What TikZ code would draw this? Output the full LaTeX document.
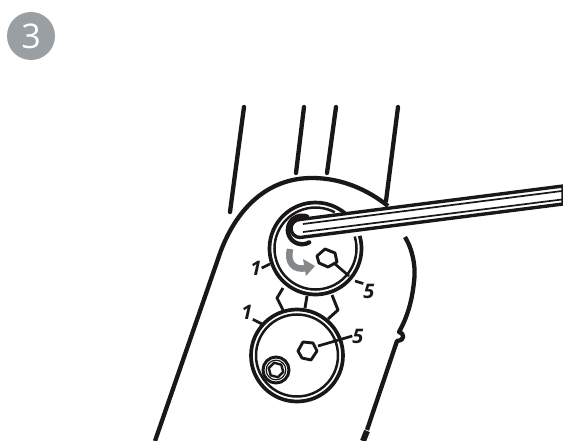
\documentclass[tikz,border=0pt]{standalone}
\usepackage{fontspec}
\setmainfont{Open Sans}
\definecolor{badgegray}{HTML}{9A9FA3}
\definecolor{turngray}{HTML}{85888B}
\definecolor{inkblack}{HTML}{1A1717}
\begin{document}
\begin{tikzpicture}[x=1pt, y=-1pt, every node/.style={align=center}]
\tikzset{
  thickline/.style={draw=inkblack, line width=4.3pt, line cap=round, line join=round},
  ringline/.style={draw=inkblack, line width=3.7pt},
  thinring/.style={draw=inkblack, line width=2.5pt},
  nutline/.style={draw=inkblack, line width=2.9pt, line join=round},
  leader/.style={draw=inkblack, line width=2.7pt},
  partnum/.style={font=\bfseries\itshape\fontsize{20}{20}\selectfont, text=inkblack, inner sep=0pt}
}
\useasboundingbox (0,0) rectangle (563,441);

% Badge
\node[circle, fill=badgegray, minimum size=48pt, inner sep=0pt, text=white, font=\fontsize{34}{34}\selectfont] (badge) at (31,36) {3};

% Uprights
\draw[thickline] (244,107) -- (230,212);
\draw[thickline] (304,107) -- (296,173);
\draw[thickline] (336,107) -- (327,173);
\draw[thickline] (398,107) -- (386,201);

% Arm outline
\draw[thickline, line cap=butt] (155,441) -- (218,259) .. controls (232,216) and (262,178) .. (312,178) .. controls (342,178) and (368,190) .. (388,206);
\draw[thickline, line cap=butt] (405,237) .. controls (413,250) and (416,268) .. (414,282) .. controls (412,300) and (408,316) .. (399,332) .. controls (404,333) and (406,340) .. (397,341) -- (367,430);
\draw[thickline, line width=6pt, line cap=butt] (367,431) -- (363,441);

% Nut between the discs
\draw[nutline] (283,288) -- (277,298) -- (283,310);
\draw[nutline] (307,296) -- (305,308);
\draw[nutline] (332,295) -- (338,310) -- (328,319);

% Upper disc
\coordinate (upperdisc) at (315.5,248.5);
\draw[ringline] (upperdisc) ++(-16:46) arc[start angle=-16, end angle=312, radius=46];
\draw[thinring] (upperdisc) ++(-17:41) arc[start angle=-17, end angle=298, radius=41];
\draw[nutline] (325,249) -- (335,253) -- (337,262) -- (328,267) -- (319,263) -- (317,256) -- cycle;

% Lower disc
\coordinate (lowerdisc) at (297,355.5);
\draw[ringline] (lowerdisc) circle (46);
\draw[thinring] (lowerdisc) circle (41);
\draw[nutline] (303,342) -- (313,343) -- (317,351) -- (311,360) -- (302,358) -- (298,351) -- cycle;

% Small bolt
\coordinate (bolt) at (276,370);
\draw[draw=inkblack, line width=3pt] (bolt) circle (13);
\draw[draw=inkblack, line width=1.2pt] (bolt) circle (9.8);
\draw[nutline, line width=2.4pt] (bolt) ++(15:7.5) -- ++(135:7.5) -- ++(195:7.5) -- ++(255:7.5) -- ++(315:7.5) -- ++(375:7.5) -- cycle;

% Socket round the key
\draw[thickline] (307,216.5) arc[start angle=-70, end angle=-300, radius=14.3];

% Hex key
\coordinate (keytop) at (563,186);
\coordinate (keybot) at (563,204);
\draw[thickline, line width=3.4pt, fill=white, line cap=butt, line join=miter] (keytop) -- (300,219.5) arc[start angle=-90, end angle=-270, radius=9] -- (keybot) -- cycle;
\draw[draw=inkblack, line width=1.7pt] (303,224) -- (562,191);
\draw[draw=inkblack, line width=1.7pt] (303,232) -- (562,199.5);

% Turning arrow
\draw[draw=turngray, line width=6.5pt] (290,249) .. controls (287,262) and (293,271) .. (307,268);
\fill[turngray] (315,266) -- (303,259) -- (306,276) -- cycle;

% Part numbers
\node[partnum] (oneup) at (256,268) {1};
\node[partnum] (fiveup) at (369,291) {5};
\node[partnum] (onelow) at (247,312) {1};
\node[partnum] (fivelow) at (358,336) {5};

\coordinate (oneupend) at (270,264);
\coordinate (fiveupend) at (335,264);
\coordinate (fiveupmid) at (349,276);
\coordinate (fiveupout) at (355,281);
\coordinate (onelowend) at (262,324);
\coordinate (fivelowend) at (318,346);

\draw[leader] (oneup.east) -- (oneupend);
\draw[leader] (fiveupend) -- (fiveupmid);
\draw[leader] (fiveupout) -- (fiveup.north west);
\draw[leader] (onelow.south east) -- (onelowend);
\draw[leader] (fivelowend) -- (fivelow.west);
\end{tikzpicture}
\end{document}
